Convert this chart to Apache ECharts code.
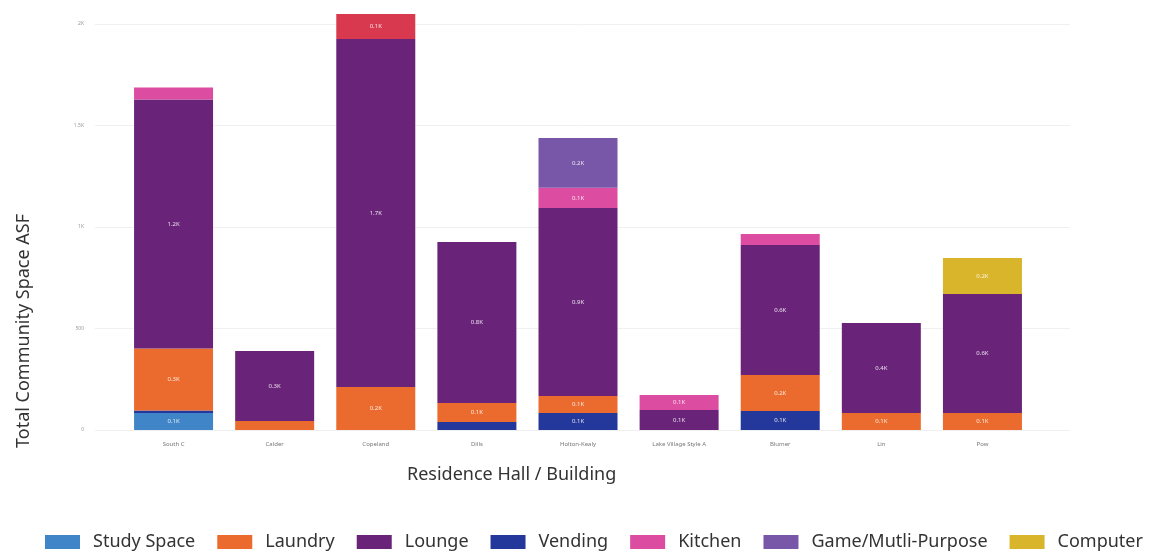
<!DOCTYPE html>
<html>
<head>
<meta charset="utf-8">
<script src="https://cdn.jsdelivr.net/npm/echarts@6/dist/echarts.min.js"></script>
<style>html,body{margin:0;padding:0;background:#fff}#c{width:1159px;height:553px}</style>
</head>
<body>
<div id="c"></div>
<script>
const categories = ["South C", "Calder", "Copeland", "Dills", "Holton-Kealy", "Lake Village Style A", "Blumer", "Lin", "Pow"];
const studySpace = [84, 0, 0, 0, 0, 0, 0, 0, 0];
const vending    = [12, 0, 0, 39, 84, 0, 94, 0, 0];
const laundry    = [305, 44, 212, 94, 84, 0, 177, 84, 84];
const lounge     = [1227, 345, 1714, 793, 926, 99, 640, 443, 586];
const kitchen    = [59, 0, 123, 0, 99, 74, 54, 0, 0];
const game       = [0, 0, 0, 0, 246, 0, 0, 0, 0];
const computer   = [0, 0, 0, 0, 0, 0, 0, 0, 177];
const yTicks = ["0", "500", "1K", "1.5K", "2K"];

const chart = echarts.init(document.getElementById('c'));
const lbl = {
  show: true, color: 'rgba(255,255,255,0.85)', fontSize: 6, fontFamily: 'Noto Sans',
  formatter: p => (p.value >= 65 ? (p.value / 1000).toFixed(1) + 'K' : '')
};
function mk(name, data, color, overrides) {
  return {
    name, type: 'bar', stack: 'a', xAxisIndex: 0, yAxisIndex: 0, barWidth: 79, clip: false,
    itemStyle: { color },
    label: lbl,
    data: data.map((v, i) => {
      const o = { value: v === 0 ? null : v };
      if (overrides && overrides[i]) o.itemStyle = { color: overrides[i] };
      return o;
    })
  };
}
chart.setOption({
  animation: false,
  grid: [
    { left: 123, right: 126, top: 24, bottom: 123 },
    { left: 95, right: 89, top: 24, bottom: 123 }
  ],
  xAxis: [
    { type: 'category', gridIndex: 0, data: categories,
      axisLine: { show: false }, axisTick: { show: false },
      axisLabel: { fontSize: 6, color: '#777', margin: 11, fontFamily: 'Noto Sans', interval: 0 } },
    { type: 'value', gridIndex: 1, show: false, min: 0, max: 1 }
  ],
  yAxis: [
    { type: 'value', gridIndex: 0, min: 0, max: 2000, interval: 500, show: false },
    { type: 'value', gridIndex: 1, min: 0, max: 2000, interval: 500,
      axisLine: { show: false }, axisTick: { show: false },
      splitLine: { lineStyle: { color: '#f0f0f0', width: 1 } },
      axisLabel: { fontSize: 5, color: '#999', margin: 11, fontFamily: 'Noto Sans',
        formatter: (v) => yTicks[Math.round(v / 500)] } }
  ],
  legend: {
    bottom: -3, left: 40, itemWidth: 35, itemHeight: 14, itemGap: 22,
    icon: 'rect',
    textStyle: { fontSize: 18, color: '#333', fontFamily: 'Noto Sans', padding: [0, 0, 0, 8] },
    data: ['Study Space', 'Laundry', 'Lounge', 'Vending', 'Kitchen', 'Game/Mutli-Purpose', 'Computer']
  },
  graphic: [
    { type: 'text', left: 15, top: 214, rotation: Math.PI / 2,
      style: { text: 'Total Community Space ASF', fontSize: 18, fill: '#333', fontFamily: 'Noto Sans' } },
    { type: 'text', left: 407, top: 466,
      style: { text: 'Residence Hall / Building', fontSize: 18, fill: '#333', fontFamily: 'Noto Sans' } }
  ],
  series: [
    mk('Study Space', studySpace, '#4185c9'),
    mk('Vending', vending, '#24379a'),
    mk('Laundry', laundry, '#ea6b2d'),
    mk('Lounge', lounge, '#69247a'),
    mk('Kitchen', kitchen, '#dc4ca0', { 2: '#d9394f' }),
    mk('Game/Mutli-Purpose', game, '#7856a8'),
    mk('Computer', computer, '#d9b52b')
  ]
});
</script>
</body>
</html>
